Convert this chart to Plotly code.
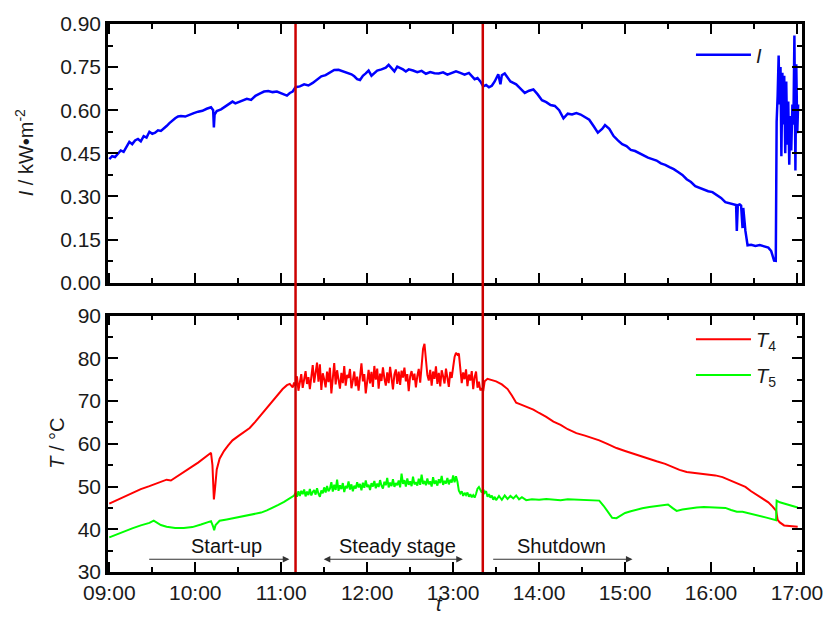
import pandas as pd
import plotly.graph_objects as go
from plotly.subplots import make_subplots

# ---- data: minutes after 09:00 and measured values ----
i_min = [0, 2, 4, 6, 8, 10, 12, 14, 16, 18, 20, 22, 24, 26, 28, 30, 32, 34, 36, 38,
         40, 42, 44, 46, 48, 50, 53, 56, 59, 62, 65, 68, 71, 72.5, 73, 73.5, 75, 78, 81, 84,
         86, 88, 90, 93, 96, 99, 102, 105, 108, 111, 114, 117, 120, 122, 124, 126, 128, 130, 133, 136,
         139, 142, 145, 148, 151, 154, 157, 160, 163, 166, 169, 171, 173, 175, 177, 179, 181, 183, 185, 187,
         190, 193, 195, 197, 199, 201, 203, 205, 207, 209, 212, 215, 218, 221, 224, 227, 230, 233, 236, 239,
         242, 245, 248, 251, 253, 255, 257, 259, 261, 263, 265, 267, 269, 270, 271.5, 273, 274, 276, 278, 280,
         282, 284, 287, 290, 293, 296, 299, 302, 305, 308, 311, 314, 317, 320, 323, 326, 329, 332, 335, 338,
         341, 344, 346, 349, 352, 355, 358, 361, 364, 367, 370, 373, 376, 379, 382, 385, 388, 391, 394, 397,
         400, 403, 406, 409, 412, 415, 418, 421, 424, 427, 430, 433, 436, 437.5, 438, 438.7, 440, 441, 442, 442.5,
         444, 445.5, 448, 451, 454, 457, 460, 462, 464, 465.2, 465.8, 466.5, 467.2, 467.8, 468.5, 469.1, 469.8, 470.4,
         471.1, 471.8, 472.5, 473.2, 473.9, 474.6, 475.3, 476, 476.8, 477.5, 478.2, 478.9, 479.5, 480.2, 480.8]
i_val = [0.430, 0.440, 0.437, 0.450, 0.460, 0.455, 0.475, 0.490, 0.482, 0.495, 0.500, 0.492, 0.510, 0.505, 0.525, 0.518, 0.522, 0.530, 0.528, 0.535,
         0.545, 0.555, 0.565, 0.572, 0.578, 0.580, 0.578, 0.585, 0.590, 0.595, 0.598, 0.605, 0.610, 0.600, 0.540, 0.585, 0.597, 0.603, 0.612, 0.622,
         0.630, 0.624, 0.628, 0.635, 0.640, 0.636, 0.650, 0.658, 0.665, 0.667, 0.663, 0.665, 0.660, 0.655, 0.651, 0.660, 0.665, 0.680, 0.683, 0.690,
         0.686, 0.695, 0.705, 0.718, 0.722, 0.730, 0.740, 0.741, 0.735, 0.730, 0.725, 0.718, 0.708, 0.705, 0.720, 0.728, 0.738, 0.720, 0.728, 0.738,
         0.742, 0.748, 0.758, 0.745, 0.735, 0.752, 0.748, 0.742, 0.735, 0.742, 0.738, 0.732, 0.737, 0.727, 0.733, 0.729, 0.728, 0.732, 0.724, 0.730,
         0.735, 0.730, 0.724, 0.730, 0.720, 0.708, 0.712, 0.700, 0.683, 0.688, 0.680, 0.685, 0.700, 0.712, 0.725, 0.690, 0.722, 0.728, 0.715, 0.700,
         0.695, 0.690, 0.675, 0.660, 0.668, 0.672, 0.655, 0.635, 0.628, 0.618, 0.615, 0.600, 0.572, 0.588, 0.585, 0.590, 0.585, 0.575, 0.567, 0.545,
         0.522, 0.535, 0.548, 0.535, 0.510, 0.495, 0.482, 0.475, 0.462, 0.458, 0.450, 0.444, 0.435, 0.430, 0.425, 0.415, 0.410, 0.402, 0.395, 0.385,
         0.375, 0.360, 0.350, 0.336, 0.330, 0.326, 0.318, 0.315, 0.305, 0.295, 0.280, 0.277, 0.274, 0.270, 0.180, 0.270, 0.272, 0.268, 0.190, 0.260,
         0.180, 0.130, 0.132, 0.128, 0.131, 0.127, 0.122, 0.110, 0.077, 0.076, 0.560, 0.650, 0.790, 0.620, 0.750, 0.440, 0.730, 0.550,
         0.720, 0.450, 0.700, 0.480, 0.630, 0.410, 0.580, 0.460, 0.620, 0.550, 0.860, 0.390, 0.760, 0.520, 0.620]

t4_min = [0, 5, 10, 16, 22, 28, 34, 40, 43, 46, 50, 54, 58, 62, 66, 69, 71, 72, 73, 73.8,
          75, 77, 80, 83, 86, 90, 94, 98, 102, 106, 110, 114, 118, 121, 124, 126, 128, 129,
          130, 131, 132, 133, 134, 135, 136, 137, 138, 139, 140, 141, 142, 143, 144, 145, 146, 147, 148, 149,
          150, 151, 152, 153, 154, 155, 156, 157, 158, 159, 160, 161, 162, 163, 164, 165, 166, 167, 168, 169,
          170, 171, 172, 173, 174, 175, 176, 177, 178, 179, 180, 181, 182, 183, 184, 185, 186, 187, 188, 189,
          190, 191, 192, 193, 194, 195, 196, 197, 198, 199, 200, 201, 202, 203, 204, 205, 206, 207, 208, 209,
          210, 211, 212, 213, 214, 215, 216, 217, 218, 219, 220, 221, 222, 223, 224, 225, 226, 227, 228, 229,
          230, 231, 232, 233, 234, 235, 236, 237, 238, 239, 240, 241, 242, 243, 244, 245, 246, 247, 248, 249,
          250, 251, 252, 253, 254, 255, 256, 257, 258, 259, 260, 261,
          262, 264, 267, 270, 274, 278, 281, 284, 287, 291, 296, 300, 305, 310, 315, 320, 326, 332, 338, 342,
          348, 354, 360, 366, 370, 376, 382, 388, 393, 398, 403, 408, 413, 418, 423, 428, 432, 436, 440, 444,
          448, 452, 456, 460, 463, 465.5, 466.5, 468, 471, 475, 480.5]
t4_val = [46.0, 46.8, 47.6, 48.6, 49.4, 50.1, 50.9, 51.6, 51.4, 52.1, 53.0, 53.8, 54.7, 55.6, 56.6, 57.5, 57.9, 55.0, 47.0, 49.5,
          54.0, 56.5, 58.3, 59.6, 60.8, 61.8, 62.8, 63.7, 65.2, 66.8, 68.3, 70.0, 71.6, 72.8, 73.7, 74.0, 73.2, 74.3,
          73.5, 75.8, 72.4, 74.9, 76.3, 73.1, 75.2, 77.0, 74.0, 75.6, 72.8, 75.9, 78.4, 74.3, 76.8, 79.0, 74.5, 78.6, 72.6, 76.5,
          75.1, 73.2, 76.9, 74.4, 77.8, 71.8, 75.3, 78.9, 73.9, 77.2, 75.0, 72.9, 76.6, 74.2, 78.2, 73.6, 76.1, 75.4, 77.5, 73.0,
          74.8, 76.9, 73.5, 75.7, 72.4, 76.0, 78.8, 74.6, 76.3, 71.8, 75.5, 77.3, 74.1, 76.8, 73.3, 78.2, 75.0, 77.6, 72.9, 76.4,
          74.7, 77.9, 75.3, 73.6, 76.7, 74.2, 78.0, 75.1, 72.7, 76.2, 77.4, 74.0, 76.9, 73.8, 77.1, 75.5, 77.8, 74.6, 76.3, 72.3,
          75.8, 77.0, 74.9, 76.4, 73.2, 75.9, 77.5, 74.3, 79.0, 82.2, 83.4, 80.5, 76.1, 74.8, 77.3, 73.6, 76.9, 75.2, 78.1, 74.0,
          76.6, 73.4, 77.2, 75.8, 74.1, 77.6, 75.0, 73.3, 76.8, 75.4, 77.9, 80.3, 81.3, 80.8, 81.1, 77.5, 74.2, 76.7, 75.1, 77.4,
          73.5, 76.2, 74.8, 77.0, 72.8, 75.6, 76.9, 73.1, 74.5, 72.5, 73.0, 72.3,
          74.6, 75.2, 74.9, 74.6, 73.9, 72.8, 71.3, 69.6, 69.2, 68.7, 68.0, 67.2, 66.3, 65.2, 64.4, 63.4, 62.5, 61.9, 61.2, 60.8,
          59.9, 59.0, 58.3, 57.6, 57.2, 56.6, 55.9, 55.3, 54.6, 53.9, 53.4, 53.2, 53.1, 52.9, 52.6, 52.2, 51.6, 51.1, 50.5, 49.9,
          48.9, 48.1, 47.3, 46.3, 45.3, 44.3, 42.2, 41.6, 40.9, 40.8, 40.6]

t5_min = [0, 5, 10, 16, 22, 28, 31, 33, 36, 40, 46, 52, 58, 64, 69, 71, 72.5, 73.2, 74.2, 77,
          82, 88, 94, 100, 106, 110, 114, 118, 122, 125, 127,
          128, 129, 130, 131, 132, 133, 134, 135, 136, 137, 138, 139, 140, 141, 142, 143, 144, 145, 146, 147,
          148, 149, 150, 151, 152, 153, 154, 155, 156, 157, 158, 159, 160, 161, 162, 163, 164, 165, 166, 167,
          168, 169, 170, 171, 172, 173, 174, 175, 176, 177, 178, 179, 180, 181, 182, 183, 184, 185, 186, 187,
          188, 189, 190, 191, 192, 193, 194, 195, 196, 197, 198, 199, 200, 201, 202, 203, 204, 205, 206, 207,
          208, 209, 210, 211, 212, 213, 214, 215, 216, 217, 218, 219, 220, 221, 222, 223, 224, 225, 226, 227,
          228, 229, 230, 231, 232, 233, 234, 235, 236, 237, 238, 239, 240, 241, 242, 243, 244, 245, 246, 247,
          248, 249, 250, 251, 252, 253, 254, 255, 256, 257, 258, 259, 260, 261, 262, 263, 264, 265, 266, 267,
          268, 269, 270, 272, 274, 276, 278, 280, 282, 284, 286, 288, 291, 295,
          300, 305, 310, 315, 320, 326, 332, 338, 342, 345, 348, 351, 354, 357, 360, 364, 368, 372, 377, 382,
          387, 390, 393, 396, 400, 405, 410, 415, 420, 425, 430, 434, 438, 442, 446, 450, 455, 460, 465.4, 465.8,
          468, 471, 475, 480.5]
t5_val = [38.1, 38.8, 39.4, 40.2, 40.9, 41.5, 42.0, 41.6, 41.0, 40.6, 40.3, 40.3, 40.5, 41.1, 41.8, 41.9, 40.6, 39.8, 41.0, 42.0,
          42.3, 42.7, 43.0, 43.4, 43.9, 44.4, 45.0, 45.7, 46.4, 47.0, 47.4,
          47.6, 47.9, 48.5, 47.6, 48.9, 47.8, 49.0, 48.2, 49.3, 47.7, 48.8, 48.0, 49.4, 47.9, 48.7, 49.2, 48.1, 49.6, 48.3, 47.6,
          49.1, 48.4, 49.8, 48.6, 50.1, 48.9, 49.5, 51.0, 48.8, 50.4, 49.2, 51.6, 49.0, 50.3, 49.4, 50.8, 48.7, 50.1, 49.6, 51.2,
          49.3, 50.5, 48.9, 50.2, 49.5, 51.0, 49.8, 50.6, 49.1, 50.9, 49.7, 51.4, 49.9, 50.4, 49.2, 50.8, 50.0, 51.3, 49.6, 50.7,
          49.9, 51.5, 50.2, 49.5, 51.1, 50.3, 52.0, 49.8, 50.9, 50.1, 51.7, 49.9, 50.8, 50.3, 51.4, 49.8, 53.0, 50.6, 51.5, 50.0,
          51.9, 50.4, 51.2, 50.1, 52.3, 50.5, 51.0, 50.2, 51.8, 50.4, 52.8, 50.6, 51.3, 50.3, 51.9, 50.5, 51.2, 50.0, 52.2, 50.6,
          51.4, 50.2, 51.7, 50.8, 52.5, 50.4, 51.3, 50.7, 52.0, 50.5, 51.6, 50.9, 52.6, 51.0, 52.4, 51.1, 49.0, 48.4, 48.9, 47.8,
          48.5, 48.0, 48.6, 47.6, 48.2, 47.5, 48.0, 47.4, 48.3, 49.5, 49.9, 49.0, 48.6, 49.3, 48.5, 48.9, 47.6, 48.2, 47.4, 47.9,
          46.9, 47.6, 46.8, 47.8, 46.9, 47.9, 47.1, 47.8, 47.2, 47.9, 47.0, 47.5, 46.8, 47.0,
          46.9, 47.1, 46.9, 46.8, 47.0, 46.9, 46.9, 46.7, 46.7, 45.5, 44.0, 42.7, 42.6, 43.3, 43.8, 44.2, 44.6, 44.9, 45.2, 45.4,
          45.7, 45.8, 45.0, 44.3, 44.6, 44.9, 45.1, 45.2, 45.1, 45.1, 45.0, 44.5, 44.1, 44.1, 43.8, 43.5, 43.1, 42.6, 42.1, 46.7,
          46.3, 46.0, 45.7, 45.1]

# stage boundaries (minutes after 09:00)
stage_bounds = [130, 260.7]
# stage labels: (text, centre, arrow start, arrow end, double-headed)
stages = [("Start-up", 81.6, 26.8, 125.7, False),
          ("Steady stage", 201.2, 148.6, 246.8, True),
          ("Shutdown", 315.4, 266.9, 365.2, False)]

base = pd.Timestamp("2015-06-01 09:00")


def clock(minutes):
    return [base + pd.Timedelta(minutes=m) for m in minutes]


FONT = "Liberation Sans, Arial, sans-serif"
TXT = "#1a1a1a"

fig = make_subplots(rows=2, cols=1, shared_xaxes=True, vertical_spacing=0.06)

fig.add_trace(go.Scatter(x=clock(i_min), y=i_val, mode="lines", name="<i>I</i>",
                         line=dict(color="#0000ff", width=2.5), legend="legend"), row=1, col=1)
fig.add_trace(go.Scatter(x=clock(t4_min), y=t4_val, mode="lines", name="<i>T</i><sub>4</sub>",
                         line=dict(color="#ff0000", width=2), legend="legend2"), row=2, col=1)
fig.add_trace(go.Scatter(x=clock(t5_min), y=t5_val, mode="lines", name="<i>T</i><sub>5</sub>",
                         line=dict(color="#00ff00", width=2), legend="legend3"), row=2, col=1)

x_range = [base + pd.Timedelta(minutes=-0.9), base + pd.Timedelta(minutes=483.5)]

axis_common = dict(showline=True, linecolor="black", linewidth=2.5, mirror="ticks",
                   ticks="inside", tickcolor="black", tickwidth=2, ticklen=10,
                   showgrid=False, zeroline=False,
                   tickfont=dict(family=FONT, size=21, color=TXT))

fig.update_xaxes(**axis_common, range=x_range, type="date", dtick=3600000, tick0=base,
                 tickformat="%H:%M",
                 minor=dict(ticks="inside", ticklen=5, tickwidth=2, tickcolor="black", dtick=1800000))
fig.update_xaxes(showticklabels=False, row=1, col=1)

fig.update_yaxes(**axis_common)
fig.update_yaxes(range=[0, 0.90], dtick=0.15, tickformat=".2f",
                 minor=dict(ticks="inside", ticklen=5, tickwidth=2, tickcolor="black", dtick=0.075),
                 domain=[0.528, 1.0], row=1, col=1)
fig.update_yaxes(range=[30, 90], dtick=10,
                 minor=dict(ticks="inside", ticklen=5, tickwidth=2, tickcolor="black", dtick=5),
                 domain=[0.0, 0.468], row=2, col=1)

# stage boundaries spanning both panels
for m in stage_bounds:
    t = base + pd.Timedelta(minutes=m)
    fig.add_shape(type="line", xref="x", yref="paper", x0=t, x1=t, y0=0, y1=1,
                  line=dict(color="#cc0000", width=2.5))

annotations = []
for text, centre, a0, a1, both in stages:
    annotations.append(dict(x=base + pd.Timedelta(minutes=centre), y=36.0, xref="x2", yref="y2",
                            text=text, showarrow=False,
                            font=dict(family=FONT, size=20, color="#111")))
    annotations.append(dict(x=base + pd.Timedelta(minutes=a1), y=33.0, xref="x2", yref="y2",
                            ax=base + pd.Timedelta(minutes=a0), ay=33.0, axref="x2", ayref="y2",
                            text="", showarrow=True, arrowhead=2, arrowsize=1.2, arrowwidth=1.1,
                            arrowcolor="#333", arrowside="end+start" if both else "end",
                            startarrowhead=2, startarrowsize=1.2))

# axis titles
annotations.append(dict(x=0, y=0.764, xref="paper", yref="paper", xshift=-84,
                        text="<i>I</i> / kW\u2022m<sup>-2</sup>", textangle=-90, showarrow=False,
                        xanchor="center", yanchor="middle",
                        font=dict(family=FONT, size=20, color=TXT)))
annotations.append(dict(x=0, y=0.234, xref="paper", yref="paper", xshift=-51,
                        text="<i>T</i> / \u00b0C", textangle=-90, showarrow=False,
                        xanchor="center", yanchor="middle",
                        font=dict(family=FONT, size=20, color=TXT)))
annotations.append(dict(x=0.477, y=-0.058, xref="paper", yref="paper",
                        text="<i>t</i>", showarrow=False, xanchor="center", yanchor="middle",
                        font=dict(family=FONT, size=20, color=TXT)))

legend_style = dict(xanchor="left", yanchor="middle", bgcolor="rgba(0,0,0,0)",
                    itemwidth=55, font=dict(family=FONT, size=20, color=TXT))
fig.update_layout(
    width=835, height=619,
    margin=dict(l=108, r=27, t=21, b=47),
    paper_bgcolor="white", plot_bgcolor="white",
    annotations=annotations,
    showlegend=True,
    legend=dict(x=0.84, y=(572 - 52) / 551, **legend_style),
    legend2=dict(x=0.84, y=(572 - 338) / 551, **legend_style),
    legend3=dict(x=0.84, y=(572 - 374) / 551, **legend_style),
)

fig.write_html("out.html")
